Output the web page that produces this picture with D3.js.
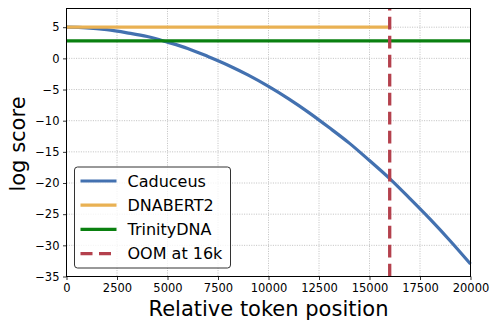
<!DOCTYPE html>
<html>
<head>
<meta charset="utf-8">
<script src="https://cdn.jsdelivr.net/npm/d3@7"></script>
<style>
  body { margin: 0; background: #fff; }
  svg { font-family: "DejaVu Sans", sans-serif; }
</style>
</head>
<body>
<div id="chart"></div>
<script>
// data
const positions = [0, 1000, 2000, 3000, 4000, 5000, 6000, 7000, 8000, 9000, 10000,
    11000, 12000, 13000, 14000, 15000, 16000, 17000, 18000, 19000, 20000];
const caduceus = [5.0, 4.9, 4.6, 4.1, 3.5, 2.6, 1.6, 0.3, -1.1, -2.7, -4.5,
    -6.5, -8.7, -11.1, -13.6, -16.4, -19.3, -22.5, -25.8, -29.3, -33.0];
const dnabert2 = [{ x: 0, y: 5.0 }, { x: 16000, y: 5.0 }];
const trinity = [{ x: 0, y: 2.8 }, { x: 20000, y: 2.8 }];
const oomAt = 16000;
const xTicks = [0, 2500, 5000, 7500, 10000, 12500, 15000, 17500, 20000];
const yTicks = [5, 0, -5, -10, -15, -20, -25, -30, -35];
const legendItems = [
    { name: "Caduceus", color: "#4371b0", dash: null },
    { name: "DNABERT2", color: "#e9b153", dash: null },
    { name: "TrinityDNA", color: "#0a8010", dash: null },
    { name: "OOM at 16k", color: "#b4414d", dash: "12,6.5" }
];

const W = 498, H = 330;
const margin = { top: 8.5, right: 27.5, bottom: 53.5, left: 66.5 };
const width = W - margin.left - margin.right;
const height = H - margin.top - margin.bottom;

const svg = d3.select("#chart").append("svg")
    .attr("width", W)
    .attr("height", H);

const g = svg.append("g")
    .attr("transform", `translate(${margin.left},${margin.top})`);

const xScale = d3.scaleLinear().domain([0, 20000]).range([0, width]);
const yScale = d3.scaleLinear().domain([-35, 8]).range([height, 0]);

// グリッド
g.append("g").selectAll("line")
    .data(xTicks)
    .enter().append("line")
    .attr("x1", d => xScale(d)).attr("x2", d => xScale(d))
    .attr("y1", 0).attr("y2", height)
    .attr("stroke", "#b0b0b0")
    .attr("stroke-width", 0.8)
    .attr("stroke-dasharray", "1,1.4");

g.append("g").selectAll("line")
    .data(yTicks)
    .enter().append("line")
    .attr("x1", 0).attr("x2", width)
    .attr("y1", d => yScale(d)).attr("y2", d => yScale(d))
    .attr("stroke", "#b0b0b0")
    .attr("stroke-width", 0.8)
    .attr("stroke-dasharray", "1,1.4");

const plot = g.append("g");

const line = d3.line()
    .x(d => xScale(d.x))
    .y(d => yScale(d.y));

plot.append("path")
    .datum(positions.map((p, i) => ({ x: p, y: caduceus[i] })))
    .attr("fill", "none")
    .attr("stroke", legendItems[0].color)
    .attr("stroke-width", 3.2)
    .attr("d", line.curve(d3.curveMonotoneX));

plot.append("path")
    .datum(dnabert2)
    .attr("fill", "none")
    .attr("stroke", legendItems[1].color)
    .attr("stroke-width", 3.2)
    .attr("d", d3.line().x(d => xScale(d.x)).y(d => yScale(d.y)));

plot.append("path")
    .datum(trinity)
    .attr("fill", "none")
    .attr("stroke", legendItems[2].color)
    .attr("stroke-width", 3.2)
    .attr("d", d3.line().x(d => xScale(d.x)).y(d => yScale(d.y)));

// OOM縦線 (下から上へ)
plot.append("line")
    .attr("x1", xScale(oomAt)).attr("x2", xScale(oomAt))
    .attr("y1", height).attr("y2", 0)
    .attr("stroke", legendItems[3].color)
    .attr("stroke-width", 3.3)
    .attr("stroke-dasharray", "12.7,6.3");

// 軸
const xAxis = g.append("g")
    .attr("transform", `translate(0,${height})`)
    .call(d3.axisBottom(xScale).tickValues(xTicks).tickSize(3.5).tickPadding(3.5).tickFormat(d3.format("d")));

const yAxis = g.append("g")
    .call(d3.axisLeft(yScale).tickValues(yTicks).tickSize(3.5).tickPadding(3.5).tickFormat(d => d < 0 ? "\u2212" + Math.abs(d) : d));

[xAxis, yAxis].forEach(a => {
    a.selectAll("text").attr("font-size", "11.5px").attr("fill", "#000").attr("font-family", "DejaVu Sans");
    a.selectAll("line").attr("stroke", "#000").attr("stroke-width", 0.8);
    a.select(".domain").remove();
});

// 枠
g.append("rect")
    .attr("x", 0).attr("y", 0)
    .attr("width", width).attr("height", height)
    .attr("fill", "none")
    .attr("stroke", "#000")
    .attr("stroke-width", 1);

// 凡例
const legend = g.append("g")
    .attr("transform", `translate(${74.5 - margin.left},${167 - margin.top})`);

legend.append("rect")
    .attr("width", 156)
    .attr("height", 101)
    .attr("rx", 3).attr("ry", 3)
    .attr("fill", "#fff")
    .attr("fill-opacity", 0.8)
    .attr("stroke", "#333")
    .attr("stroke-width", 1);

legendItems.forEach((d, i) => {
    const y = 14 + i * 24.2;
    legend.append("line")
        .attr("x1", 6).attr("x2", d.dash ? 38 : 42)
        .attr("y1", y).attr("y2", y)
        .attr("stroke", d.color)
        .attr("stroke-width", 3.2)
        .attr("stroke-dasharray", d.dash);
    legend.append("text")
        .attr("x", 53)
        .attr("y", y)
        .attr("dy", "0.35em")
        .attr("font-size", "16px")
        .attr("fill", "#000")
        .text(d.name);
});

// 軸ラベル
svg.append("text")
    .attr("x", margin.left + width / 2)
    .attr("y", 316)
    .attr("text-anchor", "middle")
    .attr("font-size", "21px")
    .attr("fill", "#000")
    .text("Relative token position");

svg.append("text")
    .attr("transform", `translate(24.5,144) rotate(-90)`)
    .attr("text-anchor", "middle")
    .attr("font-size", "21px")
    .attr("fill", "#000")
    .text("log score");
</script>
</body>
</html>
